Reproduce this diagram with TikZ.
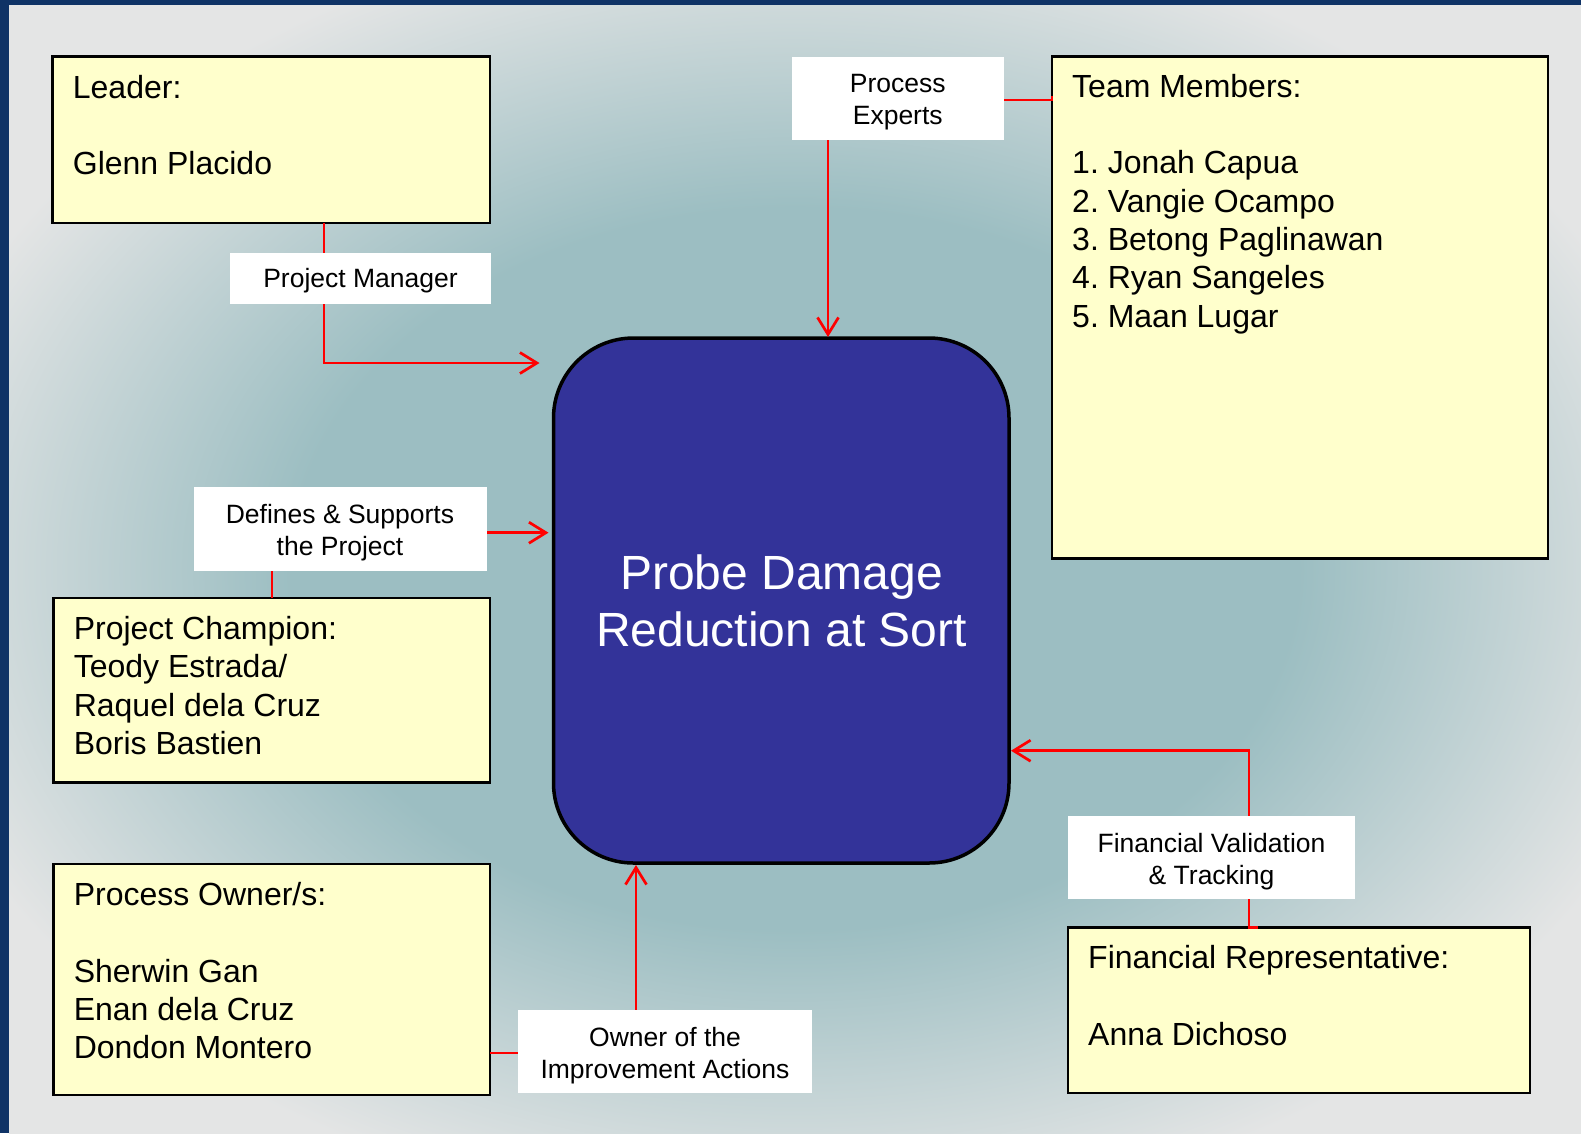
\documentclass[tikz,border=0pt]{standalone}
\usepackage{fontspec}
\setmainfont{Liberation Sans}
\usetikzlibrary{arrows.meta,calc}
\definecolor{bgblue}{HTML}{0F3366}
\definecolor{bgteal}{HTML}{9CBEC2}
\definecolor{bggray}{HTML}{E4E5E5}
\definecolor{boxyellow}{HTML}{FFFFCC}
\definecolor{coreblue}{HTML}{333399}
\definecolor{linered}{HTML}{FF0000}
\pgfdeclareradialshading{bgshade}{\pgfpoint{0bp}{0bp}}{color(0bp)=(bgteal); color(16bp)=(bgteal); color(29bp)=(bggray); color(50bp)=(bggray)}
\frenchspacing
\begin{document}
\begin{tikzpicture}[x=1pt,y=-1pt,
  infobox/.style={draw=black, line width=2.3pt, fill=boxyellow, rectangle, inner sep=0pt, outer sep=0pt, anchor=north west},
  lbl/.style={fill=white, rectangle, inner sep=0pt, outer sep=0pt, anchor=north west},
  lbltext/.style={align=center, inner sep=0pt, yshift=-4pt, font=\fontsize{26.5}{32.3}\selectfont},
  boxtext/.style={anchor=base west, inner sep=0pt},
  conn/.style={draw=linered, line width=2.7pt, -{Straight Barb[length=17pt,width=21pt]}}
]
\newcommand{\bx}[1]{\fontsize{32}{38.3}\selectfont\begin{tabular}[t]{@{}l@{}}#1\end{tabular}}
% background
\fill[bgblue] (0,0) rectangle (1581,1133);
\shade[shading=bgshade] (9,5) rectangle (1581,1133);
\useasboundingbox (0,0) rectangle (1581,1133);

% boxes
\node[infobox, minimum width=437.5pt, minimum height=166.5pt] (leader) at (52.5,56.5) {};
\node[infobox, minimum width=496pt, minimum height=502pt] (team) at (1052,56.5) {};
\node[infobox, minimum width=436.5pt, minimum height=184.5pt] (champ) at (53.5,598) {};
\node[infobox, minimum width=436.5pt, minimum height=231pt] (owner) at (53.5,864) {};
\node[infobox, minimum width=462pt, minimum height=165.5pt] (finrep) at (1068,927.5) {};
\node[draw=black, line width=3.5pt, fill=coreblue, rounded corners=80pt, minimum width=455.5pt, minimum height=525pt, anchor=north west, inner sep=0pt, outer sep=0pt] (core) at (553.5,338) {};

% box texts
\node[boxtext] (leadertxt) at (72.7,98.3) {\bx{Leader:\\ \\ Glenn Placido}};
\node[boxtext] (teamtxt) at (1072,97.3) {\bx{Team Members:\\ \\ 1. Jonah Capua\\ 2. Vangie Ocampo\\ 3. Betong Paglinawan\\ 4. Ryan Sangeles\\ 5. Maan Lugar}};
\node[boxtext] (champtxt) at (73.6,639.5) {\bx{Project Champion:\\ Teody Estrada/\\ Raquel dela Cruz\\ Boris Bastien}};
\node[boxtext] (ownertxt) at (73.6,905.5) {\bx{Process Owner/s:\\ \\ Sherwin Gan\\ Enan dela Cruz\\ Dondon Montero}};
\node[boxtext] (fintxt) at (1088,968.5) {\bx{Financial Representative:\\ \\ Anna Dichoso}};
\node[align=center, text=white, inner sep=0pt, font=\fontsize{48}{57.5}\selectfont] (coretxt) at (781.5,601) {Probe Damage\\Reduction at Sort};

% connectors
\draw[conn] ($(leader.south west)+(271.5,0)$) |- ($(core.north west)+(-14,25)$);
\draw[conn] ($(champ.north west)+(218.5,0)$) |- ($(core.north west)+(-5,194.7)$);
\draw[conn] ($(team.north west)+(0,39.5)$) -- ($(team.north west)+(0,43.5)$) -| ($(core.north west)+(274.5,-1)$);
\draw[conn] ($(finrep.north west)+(190,0)$) -- ($(finrep.north west)+(181,0)$) |- ($(core.north east)+(2,412.7)$);
\draw[conn] ($(owner.north east)+(0,189)$) -| ($(core.south west)+(82.5,2)$);

% labels
\node[lbl, minimum width=212.5pt, minimum height=83.5pt] (pe) at (791.5,56.5) {};
\node[lbltext] (petxt) at (pe.center) {Process\\Experts};
\node[lbl, minimum width=261pt, minimum height=50.5pt] (pm) at (230,253) {};
\node[lbltext, yshift=1.5pt] (pmtxt) at (pm.center) {Project Manager};
\node[lbl, minimum width=293pt, minimum height=83.7pt] (ds) at (193.5,487) {};
\node[lbltext] (dstxt) at (ds.center) {Defines \& Supports\\the Project};
\node[lbl, minimum width=294pt, minimum height=83pt] (oi) at (518,1010) {};
\node[lbltext] (oitxt) at (oi.center) {Owner of the\\Improvement Actions};
\node[lbl, minimum width=287pt, minimum height=83pt] (fv) at (1068,816) {};
\node[lbltext] (fvtxt) at (fv.center) {Financial Validation\\\& Tracking};
\end{tikzpicture}
\end{document}
